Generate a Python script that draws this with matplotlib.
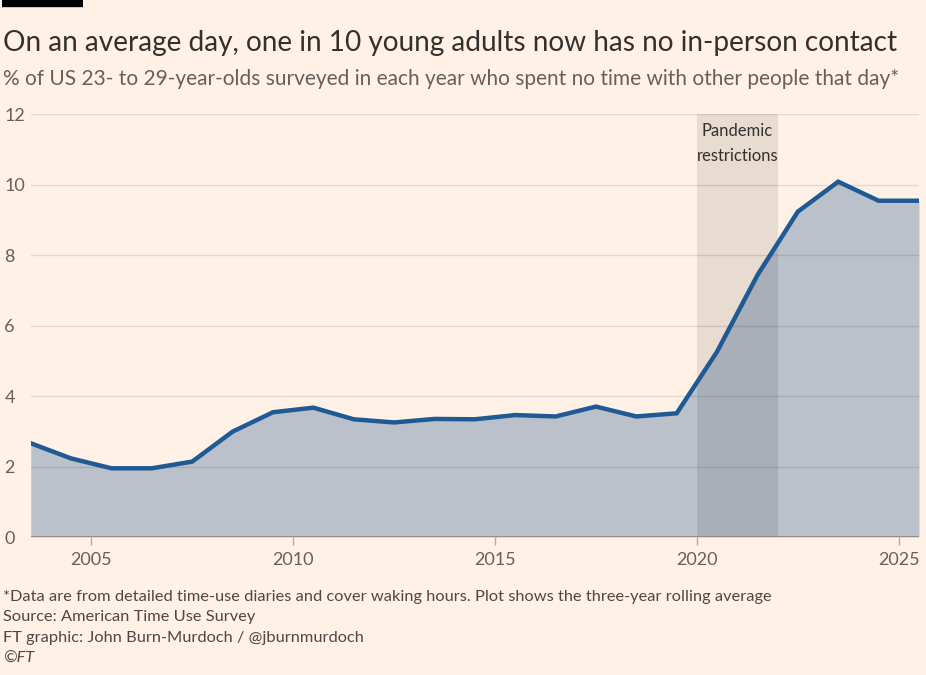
import numpy as np
import matplotlib.pyplot as plt
from matplotlib.lines import Line2D

plt.rcParams["font.family"] = ["Lato", "DejaVu Sans"]

# three-year rolling average, plotted at mid-year
years = [2003.5, 2004.5, 2005.5, 2006.5, 2007.5, 2008.5, 2009.5, 2010.5,
         2011.5, 2012.5, 2013.5, 2014.5, 2015.5, 2016.5, 2017.5, 2018.5,
         2019.5, 2020.5, 2021.5, 2022.5, 2023.5, 2024.5, 2025.5]
share = [2.66, 2.23, 1.95, 1.95, 2.14, 2.99, 3.54, 3.67,
         3.34, 3.25, 3.35, 3.34, 3.46, 3.42, 3.70, 3.42,
         3.51, 5.26, 7.43, 9.23, 10.08, 9.54, 9.54]
pandemic = (2020, 2022)
y_ticks = [0, 2, 4, 6, 8, 10, 12]
x_ticks = [2005, 2010, 2015, 2020, 2025]

bg = "#fff1e5"
fig = plt.figure(figsize=(9.26, 6.75), dpi=100, facecolor=bg)
ax = fig.add_axes([0.0332, 0.2044, 0.9592, 0.6267])
ax.set_facecolor(bg)

ax.fill_between(years, share, 0, color="#bac1cb", lw=0, zorder=1)
ax.axvspan(*pandemic, color="black", alpha=0.09, lw=0, zorder=2)
for yt in y_ticks[1:]:
    ax.axhline(yt, color="black", alpha=0.1, lw=1, zorder=3)
ax.plot(years, share, color="#1f5a94", lw=3.2, solid_joinstyle="miter", zorder=4)
ax.axhline(0, color="#8a8580", lw=1.2, zorder=5)

ax.text(np.mean(pandemic), 11.16, "Pandemic\nrestrictions", ha="center", va="center",
        fontsize=12, color="#33302e", linespacing=1.75, zorder=6)

ax.set_xlim(2003.5, 2025.5)
ax.set_ylim(0, 12)
ax.set_yticks(y_ticks)
ax.set_xticks(x_ticks)
for s in ax.spines.values():
    s.set_visible(False)
ax.tick_params(axis="y", length=0, pad=19, labelsize=13, labelcolor="#66605c")
ax.tick_params(axis="x", length=6, width=1, color="#b3aca6", pad=5,
               labelsize=13, labelcolor="#66605c")
for lab in ax.get_yticklabels():
    lab.set_horizontalalignment("left")

# top bar
fig.add_artist(Line2D([0.002, 0.09], [0.9955, 0.9955], color="black", lw=6,
                      solid_capstyle="butt"))

fig.text(0.003, 0.937, "On an average day, one in 10 young adults now has no in-person contact",
         fontsize=20.2, color="#33302e", va="center")
fig.text(0.003, 0.883, "% of US 23- to 29-year-olds surveyed in each year who spent no time with other people that day*",
         fontsize=15, color="#66605c", va="center")

notes = ["*Data are from detailed time-use diaries and cover waking hours. Plot shows the three-year rolling average",
         "Source: American Time Use Survey",
         "FT graphic: John Burn-Murdoch / @jburnmurdoch"]
for i, t in enumerate(notes):
    fig.text(0.003, 0.116 - i * 0.0305, t, fontsize=11.8, color="#4d4845", va="center")
fig.text(0.003, 0.116 - 3 * 0.0305, "©FT", fontsize=11.8, color="#4d4845", va="center",
         style="italic")

fig.savefig("out.png", dpi=100, facecolor=bg)
